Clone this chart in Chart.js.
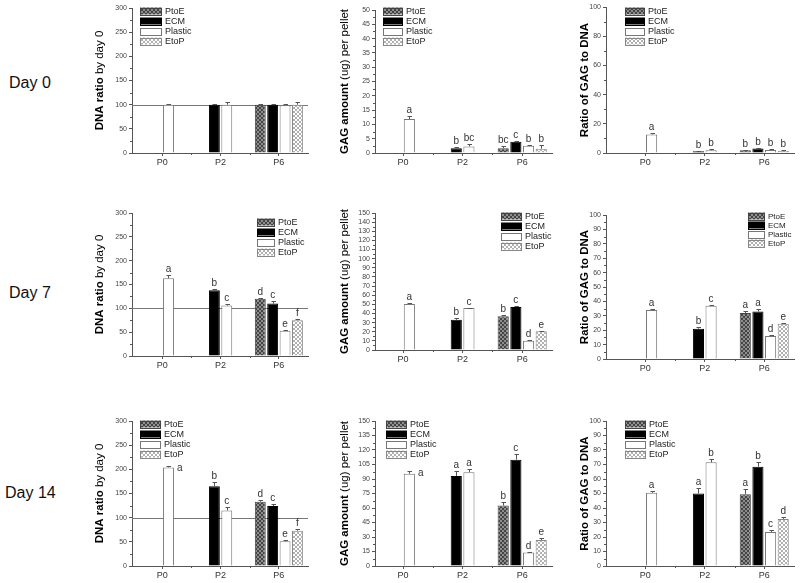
<!DOCTYPE html>
<html>
<head>
<meta charset="utf-8">
<script src="https://cdn.jsdelivr.net/npm/chart.js@4.4.0/dist/chart.umd.min.js"></script>
<style>
  body { margin: 0; background: #fff; width: 800px; height: 583px; position: relative; overflow: hidden; font-family: "Liberation Sans", Arial, sans-serif; }
  canvas { position: absolute; }
  .day { position: absolute; font-size: 16px; color: #111; }
</style>
</head>
<body>
<div class="day" style="left:9px;top:74px">Day 0</div>
<div class="day" style="left:9px;top:284px">Day 7</div>
<div class="day" style="left:5px;top:484px">Day 14</div>

<script>
const categories = ["P0", "P2", "P6"];
const seriesNames = ["PtoE", "ECM", "Plastic", "EtoP"];

// rows = series (PtoE, ECM, Plastic, EtoP), columns = P0, P2, P6
const dna0Values = [[null, null, 100], [null, 100, 100], [100, 100, 99], [null, null, 100]];
const dna0Errors = [[0, 0, 2], [0, 1.5, 2], [2, 5, 2], [0, 0, 5]];
const dna0Letters = [["", "", ""], ["", "", ""], ["", "", ""], ["", "", ""]];

const gag0Values = [[null, null, 1.7], [null, 1.7, 3.9], [11.9, 2.3, 2.5], [null, null, 1.5]];
const gag0Errors = [[0, 0, 0.8], [0, 0.4, 0.3], [1.1, 1.0, 0.4], [0, 0, 1.2]];
const gag0Letters = [["", "", "bc"], ["", "b", "c"], ["a", "bc", "b"], ["", "", "b"]];

const ratio0Values = [[null, null, 1.8], [null, 1.2, 3.0], [12.7, 1.8, 2.0], [null, null, 1.3]];
const ratio0Errors = [[0, 0, 0.5], [0, 0.3, 0.3], [0.8, 0.6, 0.5], [0, 0, 0.5]];
const ratio0Letters = [["", "", "b"], ["", "b", "b"], ["a", "b", "b"], ["", "", "b"]];

const dna7Values = [[null, null, 120], [null, 138, 110], [163, 106, 53], [null, null, 75]];
const dna7Errors = [[0, 0, 2], [0, 2, 5], [6, 3, 2], [0, 0, 2]];
const dna7Letters = [["", "", "d"], ["", "b", "c"], ["a", "c", "e"], ["", "", "f"]];

const gag7Values = [[null, null, 37], [null, 33, 47], [50.5, 46, 10], [null, null, 20.5]];
const gag7Errors = [[0, 0, 1], [0, 2.5, 1.5], [1, 0.5, 1], [0, 0, 0.7]];
const gag7Letters = [["", "", "b"], ["", "b", "c"], ["a", "c", "d"], ["", "", "e"]];

const ratio7Values = [[null, null, 32], [null, 21, 33], [34, 37, 16], [null, null, 24.5]];
const ratio7Errors = [[0, 0, 1], [0, 1.5, 2], [1, 0.8, 1], [0, 0, 0.7]];
const ratio7Letters = [["", "", "a"], ["", "b", "a"], ["a", "c", "d"], ["", "", "e"]];

const dna14Values = [[null, null, 133], [null, 165, 124], [204, 115, 51], [null, null, 73]];
const dna14Errors = [[0, 0, 3], [0, 8, 4], [2, 8, 3], [0, 0, 4]];
const dna14Letters = [["", "", "d"], ["", "b", "c"], ["a", "c", "e"], ["", "", "f"]];

const gag14Values = [[null, null, 62.5], [null, 93, 110], [95.5, 97, 14], [null, null, 27]];
const gag14Errors = [[0, 0, 4], [0, 5, 6], [3, 3, 1], [0, 0, 2]];
const gag14Letters = [["", "", "b"], ["", "a", "c"], ["a", "a", "d"], ["", "", "e"]];

const ratio14Values = [[null, null, 49.5], [null, 50, 68.5], [50.5, 71.5, 23.5], [null, null, 32.5]];
const ratio14Errors = [[0, 0, 3.5], [0, 3.5, 3.5], [1, 2.5, 1], [0, 0, 1.5]];
const ratio14Letters = [["", "", "a"], ["", "a", "b"], ["a", "b", "c"], ["", "", "d"]];

Chart.defaults.font.family = "'Liberation Sans', Arial, sans-serif";

function makePattern(bg, fg) {
  const c = document.createElement("canvas");
  c.width = 4; c.height = 4;
  const g = c.getContext("2d");
  g.fillStyle = bg;
  g.fillRect(0, 0, 4, 4);
  g.fillStyle = fg;
  for (let i = 0; i < 4; i++) {
    g.fillRect(i, i, 1, 1);
    g.fillRect(3 - i, i, 1, 1);
  }
  return g.createPattern(c, "repeat");
}

const fills = [makePattern("#444", "#8e8e8e"), "#000", "#fff", makePattern("#fff", "#b0b0b0")];
const borders = ["#444", "#000", "#777", "#888"];

const dnaTitle = ["DNA ratio", " by day 0"];
const gagTitle = ["GAG amount", " (ug) per pellet"];
const ratioTitle = ["Ratio of GAG to DNA", ""];

const panels = [
  { L: 132, R: 308, T: 8, B: 153, xMin: -0.52, yMax: 300, step: 50, title: dnaTitle, tGap: 32, ref: 100,
    v: dna0Values, e: dna0Errors, t: dna0Letters, lg: { dx: 8, dy: 3, w: 22, gap: 10, font: 9 } },
  { L: 375, R: 552, T: 10, B: 153, xMin: -0.47, yMax: 50, step: 5, title: gagTitle, tGap: 30,
    v: gag0Values, e: gag0Errors, t: gag0Letters, lg: { dx: 8, dy: 1, w: 20, gap: 10, font: 9 } },
  { L: 606, R: 794, T: 7, B: 153, xMin: -0.66, yMax: 100, step: 20, title: ratioTitle, tGap: 21,
    v: ratio0Values, e: ratio0Errors, t: ratio0Letters, lg: { dx: 19, dy: 4, w: 20, gap: 10, font: 9 } },
  { L: 132, R: 308, T: 213, B: 356, xMin: -0.52, yMax: 300, step: 50, title: dnaTitle, tGap: 32, ref: 100,
    v: dna7Values, e: dna7Errors, t: dna7Letters, lg: { dx: 125, dy: 9, w: 18, gap: 10, font: 9 } },
  { L: 375, R: 552, T: 213, B: 350, xMin: -0.47, yMax: 150, step: 10, title: gagTitle, tGap: 30,
    v: gag7Values, e: gag7Errors, t: gag7Letters, lg: { dx: 126, dy: 3, w: 21, gap: 10, font: 9 } },
  { L: 606, R: 794, T: 215, B: 359, xMin: -0.66, yMax: 100, step: 10, title: ratioTitle, tGap: 21,
    v: ratio7Values, e: ratio7Errors, t: ratio7Letters, lg: { dx: 142, dy: 1, w: 17, gap: 9, font: 8 } },
  { L: 132, R: 308, T: 421, B: 566, xMin: -0.52, yMax: 300, step: 50, title: dnaTitle, tGap: 32, ref: 100,
    v: dna14Values, e: dna14Errors, t: dna14Letters, lg: { dx: 8, dy: 3, w: 21, gap: 10, font: 9 }, sideLetter: true },
  { L: 375, R: 552, T: 421, B: 566, xMin: -0.47, yMax: 150, step: 15, title: gagTitle, tGap: 30,
    v: gag14Values, e: gag14Errors, t: gag14Letters, lg: { dx: 11, dy: 3, w: 21, gap: 10, font: 9 }, sideLetter: true },
  { L: 606, R: 794, T: 421, B: 566, xMin: -0.66, yMax: 100, step: 10, title: ratioTitle, tGap: 21,
    v: ratio14Values, e: ratio14Errors, t: ratio14Letters, lg: { dx: 19, dy: 3, w: 21, gap: 10, font: 9 } }
];

const PAD_L = 70, PAD_T = 12, PAD_R = 6, PAD_B = 22;

function decor(p) {
  return {
    id: "decor",
    beforeDatasetsDraw(chart) {
      const { ctx, chartArea: a, scales: { x, y } } = chart;
      ctx.save();
      ctx.lineWidth = 1;
      if (p.ref != null) {
        const yy = Math.round(y.getPixelForValue(p.ref)) + 0.5;
        ctx.strokeStyle = "#777";
        ctx.beginPath(); ctx.moveTo(a.left, yy); ctx.lineTo(a.right, yy); ctx.stroke();
      }
      // minor ticks
      ctx.strokeStyle = "#555";
      ctx.beginPath();
      for (let v = p.step / 2; v < p.yMax; v += p.step) {
        const yy = Math.round(y.getPixelForValue(v)) + 0.5;
        ctx.moveTo(a.left - 2, yy); ctx.lineTo(a.left, yy);
      }
      for (let i = 0; i < categories.length - 1; i++) {
        const xx = Math.round(x.getPixelForValue(i + 0.5)) + 0.5;
        ctx.moveTo(xx, a.bottom); ctx.lineTo(xx, a.bottom + 2);
      }
      ctx.stroke();
      ctx.restore();
    },
    afterDatasetsDraw(chart) {
      const { ctx, chartArea: a, scales: { y } } = chart;
      ctx.save();
      // error bars and letters
      chart.data.datasets.forEach((ds, d) => {
        const meta = chart.getDatasetMeta(d);
        meta.data.forEach((el, i) => {
          const val = p.v[d][i];
          if (val == null) return;
          const top = y.getPixelForValue(val + p.e[d][i]);
          const cx = Math.round(el.x) + 0.5;
          ctx.strokeStyle = "#555";
          ctx.lineWidth = 1;
          ctx.beginPath();
          ctx.moveTo(cx, el.y); ctx.lineTo(cx, Math.round(top) + 0.5);
          ctx.moveTo(cx - 2, Math.round(top) + 0.5); ctx.lineTo(cx + 2.5, Math.round(top) + 0.5);
          ctx.stroke();
          const txt = p.t[d][i];
          if (!txt) return;
          ctx.fillStyle = "#333";
          ctx.font = "10px 'Liberation Sans', Arial, sans-serif";
          if (p.sideLetter && i === 0) {
            ctx.textAlign = "left"; ctx.textBaseline = "middle";
            ctx.fillText(txt, el.x + el.width / 2 + 3, top + 2);
          } else {
            ctx.textAlign = "center"; ctx.textBaseline = "alphabetic";
            ctx.fillText(txt, el.x, top - 3);
          }
        });
      });
      // legend
      const lg = p.lg;
      seriesNames.forEach((name, s) => {
        const cy = a.top + lg.dy + s * lg.gap;
        const sx = a.left + lg.dx;
        ctx.fillStyle = fills[s];
        ctx.fillRect(sx, cy - 3.5, lg.w, 7);
        ctx.strokeStyle = borders[s];
        ctx.lineWidth = 1;
        ctx.strokeRect(sx + 0.5, Math.round(cy - 3.5) + 0.5, lg.w - 1, 7);
        ctx.fillStyle = "#222";
        ctx.font = lg.font + "px 'Liberation Sans', Arial, sans-serif";
        ctx.textAlign = "left"; ctx.textBaseline = "middle";
        ctx.fillText(name, sx + lg.w + 3, cy + 0.5);
      });
      // rotated y title, bold + regular parts
      const boldF = "bold 11.5px 'Liberation Sans', Arial, sans-serif";
      const regF = "11.5px 'Liberation Sans', Arial, sans-serif";
      ctx.font = boldF;
      const w1 = ctx.measureText(p.title[0]).width;
      ctx.font = regF;
      const w2 = ctx.measureText(p.title[1]).width;
      ctx.translate(a.left - p.tGap, (a.top + a.bottom) / 2);
      ctx.rotate(-Math.PI / 2);
      ctx.fillStyle = "#000";
      ctx.textBaseline = "middle"; ctx.textAlign = "left";
      ctx.font = boldF;
      ctx.fillText(p.title[0], -(w1 + w2) / 2, 0);
      ctx.font = regF;
      ctx.fillText(p.title[1], -(w1 + w2) / 2 + w1, 0);
      ctx.restore();
    }
  };
}

panels.forEach((p) => {
  const canvas = document.createElement("canvas");
  const w = p.R - p.L + PAD_L + PAD_R;
  const h = p.B - p.T + PAD_T + PAD_B;
  canvas.width = w; canvas.height = h;
  canvas.style.left = (p.L - PAD_L) + "px";
  canvas.style.top = (p.T - PAD_T) + "px";
  canvas.style.width = w + "px";
  canvas.style.height = h + "px";
  document.body.appendChild(canvas);

  new Chart(canvas, {
    type: "bar",
    data: {
      datasets: seriesNames.map((name, s) => ({
        label: name,
        data: categories.map((c, i) => ({ x: i, y: p.v[s][i] })),
        backgroundColor: fills[s],
        borderColor: borders[s],
        borderWidth: 1,
        categoryPercentage: 0.85,
        barPercentage: 0.88
      }))
    },
    options: {
      responsive: false,
      animation: false,
      events: [],
      layout: { padding: { left: 0, top: PAD_T, right: PAD_R, bottom: 0 } },
      plugins: { legend: { display: false }, tooltip: { enabled: false } },
      scales: {
        x: {
          type: "linear",
          min: p.xMin,
          max: 2.5,
          offset: false,
          afterBuildTicks(sc) { sc.ticks = categories.map((c, i) => ({ value: i })); },
          afterFit(sc) { sc.height = PAD_B; },
          ticks: { callback: (v) => categories[v], font: { size: 9 }, color: "#333", padding: 1, autoSkip: false, maxRotation: 0 },
          grid: { drawOnChartArea: false, tickLength: 3, color: "#555", offset: false },
          border: { color: "#555" }
        },
        y: {
          min: 0,
          max: p.yMax,
          afterFit(sc) { sc.width = PAD_L; },
          ticks: { stepSize: p.step, font: { size: 7 }, color: "#444", padding: 2, autoSkip: false },
          grid: { drawOnChartArea: false, tickLength: 3, color: "#555" },
          border: { color: "#555" }
        }
      }
    },
    plugins: [decor(p)]
  });
});
</script>
</body>
</html>
